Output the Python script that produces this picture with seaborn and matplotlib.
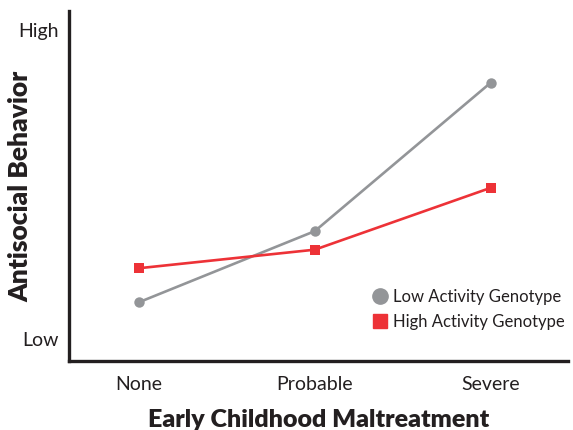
import pandas as pd
import seaborn as sns
import matplotlib.pyplot as plt
from matplotlib.lines import Line2D

# Data (0 = Low, 1 = High)
categories = ['None', 'Probable', 'Severe']
low_activity = [0.12, 0.35, 0.83]
high_activity = [0.23, 0.29, 0.49]
series_names = ['Low Activity Genotype', 'High Activity Genotype']

df = pd.DataFrame({
    'Maltreatment': categories * 2,
    'Antisocial': low_activity + high_activity,
    'Genotype': [series_names[0]] * 3 + [series_names[1]] * 3,
})

sns.set_style('white')
plt.rcParams['font.family'] = ['Lato', 'DejaVu Sans']

GRAY = '#939598'
RED = '#ed3237'
INK = '#231f20'
palette = {series_names[0]: GRAY, series_names[1]: RED}
markers = {series_names[0]: 'o', series_names[1]: 's'}

fig = plt.figure(figsize=(5.73, 4.30), dpi=100)
ax = fig.add_axes([0.120, 0.160, 0.871, 0.814])

sns.lineplot(data=df, x='Maltreatment', y='Antisocial', hue='Genotype',
             style='Genotype', markers=markers, dashes=False, palette=palette,
             linewidth=1.9, markersize=7.5, markeredgewidth=0, ax=ax,
             legend=False, sort=False)

ax.set_xlim(-0.40, 2.44)
ax.set_ylim(-0.071, 1.062)
ax.set_yticks([0, 1])
ax.set_yticklabels(['Low', 'High'])
ax.tick_params(axis='both', length=0, labelsize=14, colors=INK, pad=7)
ax.tick_params(axis='x', pad=11)

for side in ['top', 'right']:
    ax.spines[side].set_visible(False)
for side in ['left', 'bottom']:
    ax.spines[side].set_linewidth(2.4)
    ax.spines[side].set_color(INK)

ax.set_xlabel('Early Childhood Maltreatment', fontsize=18, fontweight='heavy',
              color=INK)
ax.xaxis.set_label_coords(0.5, -0.136)
ax.set_ylabel('Antisocial Behavior', fontsize=19, fontweight='heavy',
              color=INK)
ax.yaxis.set_label_coords(-0.072, 0.5)

handles = [
    Line2D([], [], color=GRAY, marker='o', linestyle='', markersize=11),
    Line2D([], [], color=RED, marker='s', linestyle='', markersize=10.5),
]
ax.legend(handles, series_names, loc='lower right', bbox_to_anchor=(1.008, 0.07),
          frameon=False, fontsize=12, handletextpad=0.3, labelspacing=0.55,
          handlelength=1.0, borderaxespad=0, labelcolor=INK)

fig.savefig('out.png', dpi=100)
